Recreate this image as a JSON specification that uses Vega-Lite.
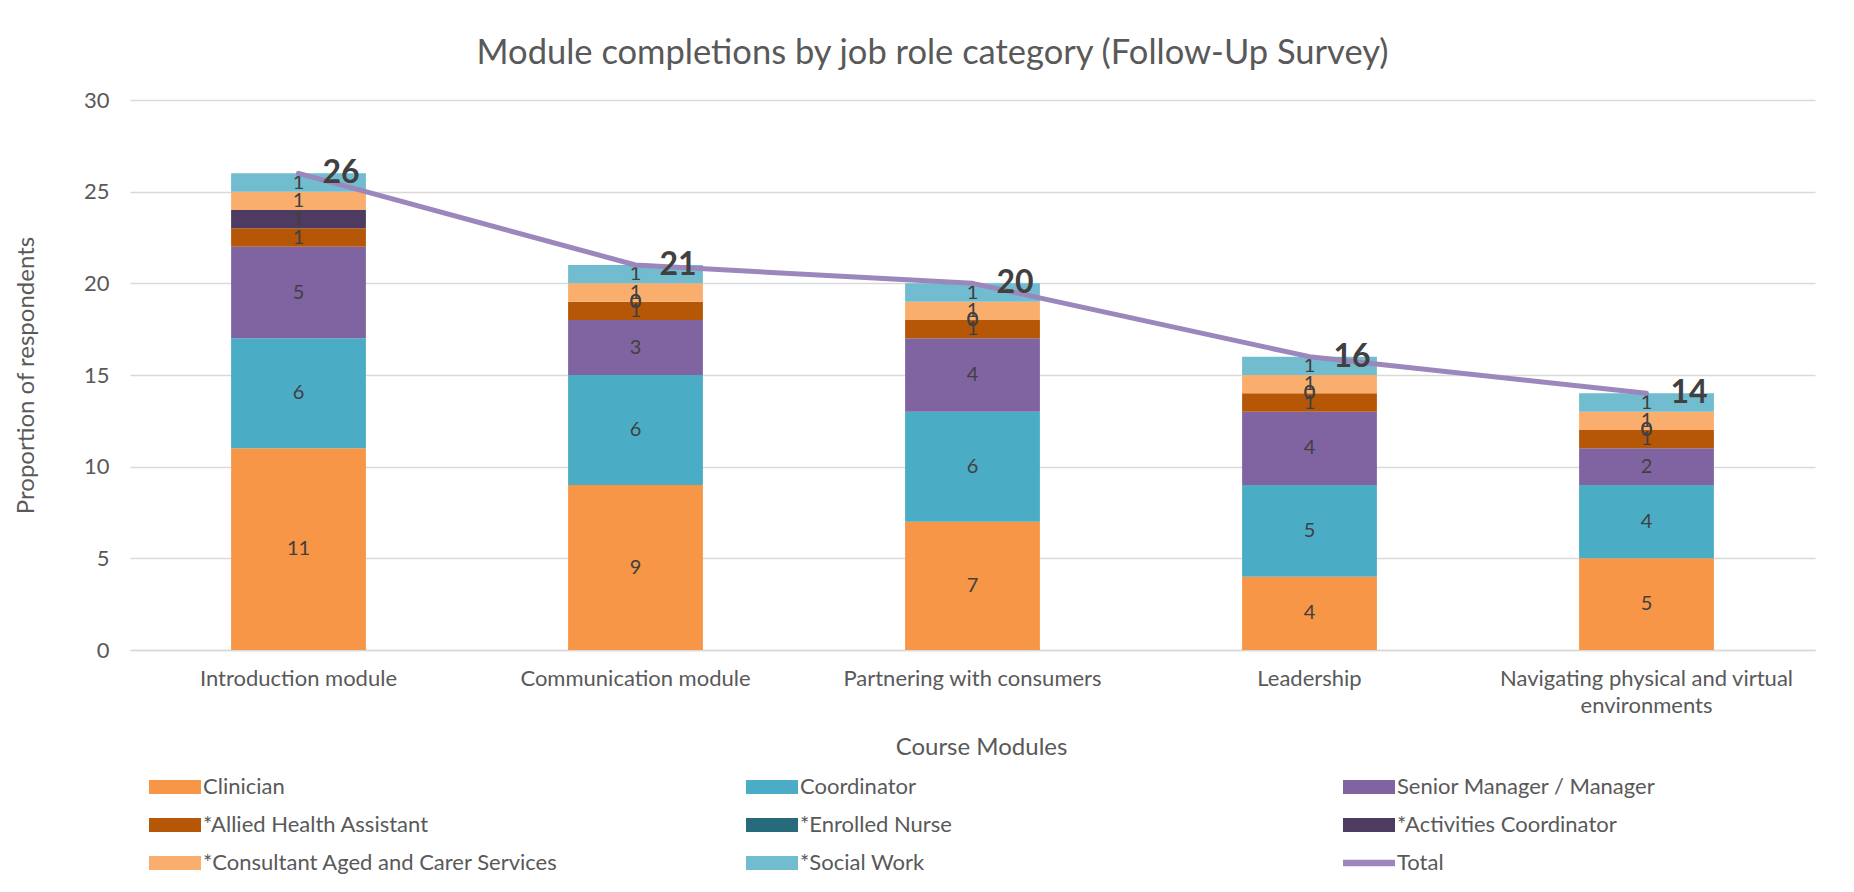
{
  "$schema": "https://vega.github.io/schema/vega-lite/v6.json",
  "width": 1685,
  "height": 550,
  "autosize": {"type": "none"},
  "padding": {"left": 130, "top": 100, "right": 39, "bottom": 242},
  "background": "white",
  "config": {"view": {"stroke": null}, "font": "Lato"},
  "title": {
    "text": "Module completions by job role category (Follow-Up Survey)",
    "fontSize": 34.5, "font": "Lato", "fontWeight": "normal", "color": "#595959",
    "anchor": "middle", "frame": "group", "dx": -40, "offset": -9, "baseline": "alphabetic"
  },
  "datasets": {
    "roles": [
      {"module": "Introduction module", "role": "Clinician", "ord": 1, "count": 11},
      {"module": "Introduction module", "role": "Coordinator", "ord": 2, "count": 6},
      {"module": "Introduction module", "role": "Senior Manager / Manager", "ord": 3, "count": 5},
      {"module": "Introduction module", "role": "*Allied Health Assistant", "ord": 4, "count": 1},
      {"module": "Introduction module", "role": "*Activities Coordinator", "ord": 6, "count": 1},
      {"module": "Introduction module", "role": "*Consultant Aged and Carer Services", "ord": 7, "count": 1},
      {"module": "Introduction module", "role": "*Social Work", "ord": 8, "count": 1},
      {"module": "Communication module", "role": "Clinician", "ord": 1, "count": 9},
      {"module": "Communication module", "role": "Coordinator", "ord": 2, "count": 6},
      {"module": "Communication module", "role": "Senior Manager / Manager", "ord": 3, "count": 3},
      {"module": "Communication module", "role": "*Allied Health Assistant", "ord": 4, "count": 1},
      {"module": "Communication module", "role": "*Enrolled Nurse", "ord": 5, "count": 0},
      {"module": "Communication module", "role": "*Activities Coordinator", "ord": 6, "count": 0},
      {"module": "Communication module", "role": "*Consultant Aged and Carer Services", "ord": 7, "count": 1},
      {"module": "Communication module", "role": "*Social Work", "ord": 8, "count": 1},
      {"module": "Partnering with consumers", "role": "Clinician", "ord": 1, "count": 7},
      {"module": "Partnering with consumers", "role": "Coordinator", "ord": 2, "count": 6},
      {"module": "Partnering with consumers", "role": "Senior Manager / Manager", "ord": 3, "count": 4},
      {"module": "Partnering with consumers", "role": "*Allied Health Assistant", "ord": 4, "count": 1},
      {"module": "Partnering with consumers", "role": "*Enrolled Nurse", "ord": 5, "count": 0},
      {"module": "Partnering with consumers", "role": "*Activities Coordinator", "ord": 6, "count": 0},
      {"module": "Partnering with consumers", "role": "*Consultant Aged and Carer Services", "ord": 7, "count": 1},
      {"module": "Partnering with consumers", "role": "*Social Work", "ord": 8, "count": 1},
      {"module": "Leadership", "role": "Clinician", "ord": 1, "count": 4},
      {"module": "Leadership", "role": "Coordinator", "ord": 2, "count": 5},
      {"module": "Leadership", "role": "Senior Manager / Manager", "ord": 3, "count": 4},
      {"module": "Leadership", "role": "*Allied Health Assistant", "ord": 4, "count": 1},
      {"module": "Leadership", "role": "*Enrolled Nurse", "ord": 5, "count": 0},
      {"module": "Leadership", "role": "*Activities Coordinator", "ord": 6, "count": 0},
      {"module": "Leadership", "role": "*Consultant Aged and Carer Services", "ord": 7, "count": 1},
      {"module": "Leadership", "role": "*Social Work", "ord": 8, "count": 1},
      {"module": "Navigating physical and virtual environments", "role": "Clinician", "ord": 1, "count": 5},
      {"module": "Navigating physical and virtual environments", "role": "Coordinator", "ord": 2, "count": 4},
      {"module": "Navigating physical and virtual environments", "role": "Senior Manager / Manager", "ord": 3, "count": 2},
      {"module": "Navigating physical and virtual environments", "role": "*Allied Health Assistant", "ord": 4, "count": 1},
      {"module": "Navigating physical and virtual environments", "role": "*Enrolled Nurse", "ord": 5, "count": 0},
      {"module": "Navigating physical and virtual environments", "role": "*Activities Coordinator", "ord": 6, "count": 0},
      {"module": "Navigating physical and virtual environments", "role": "*Consultant Aged and Carer Services", "ord": 7, "count": 1},
      {"module": "Navigating physical and virtual environments", "role": "*Social Work", "ord": 8, "count": 1}
    ],
    "totals": [
      {"module": "Introduction module", "total": 26},
      {"module": "Communication module", "total": 21},
      {"module": "Partnering with consumers", "total": 20},
      {"module": "Leadership", "total": 16},
      {"module": "Navigating physical and virtual environments", "total": 14}
    ]
  },
  "encoding": {
    "x": {
      "field": "module", "type": "nominal",
      "sort": ["Introduction module", "Communication module", "Partnering with consumers", "Leadership", "Navigating physical and virtual environments"],
      "scale": {"paddingInner": 0.6, "paddingOuter": 0.3},
      "axis": {
        "title": "Course Modules", "titleFontSize": 24, "titleColor": "#595959", "titleFontWeight": "normal", "titleFont": "Lato",
        "titleY": 97, "titleX": 851, "titleBaseline": "middle",
        "labelAngle": 0, "labelFontSize": 22, "labelColor": "#595959", "labelFont": "Lato", "labelPadding": 18, "labelLimit": 0,
        "labelLineHeight": 27,
        "labelExpr": "datum.label == 'Navigating physical and virtual environments' ? ['Navigating physical and virtual', 'environments'] : datum.label",
        "ticks": false, "domain": true, "domainColor": "#d9d9d9", "domainWidth": 1.3
      }
    }
  },
  "layer": [
    {
      "data": {"name": "roles"},
      "mark": {"type": "bar"},
      "encoding": {
        "y": {
          "field": "count", "type": "quantitative", "stack": "zero",
          "scale": {"domain": [0, 30]},
          "axis": {
            "title": "Proportion of respondents", "titleFontSize": 24, "titleColor": "#595959", "titleFontWeight": "normal", "titleFont": "Lato",
            "titleX": -104, "titleY": 275, "titleBaseline": "middle", "titleAngle": -90, "titleAlign": "center",
            "values": [0, 5, 10, 15, 20, 25, 30],
            "grid": true, "gridColor": "#d9d9d9", "gridWidth": 1.3,
            "domain": false, "ticks": false,
            "labelFontSize": 22, "labelColor": "#595959", "labelFont": "Lato", "labelPadding": 21
          }
        },
        "color": {
          "field": "role", "type": "nominal",
          "scale": {
            "domain": ["Clinician", "Coordinator", "Senior Manager / Manager", "*Allied Health Assistant", "*Enrolled Nurse", "*Activities Coordinator", "*Consultant Aged and Carer Services", "*Social Work", "Total"],
            "range": ["#F79646", "#4BACC6", "#8064A2", "#B65708", "#276A7C", "#4D3B62", "#F9AE6E", "#72BCD0", "#9B87BC"]
          },
          "legend": {
            "title": null, "orient": "none", "legendX": 15, "legendY": 676, "padding": 0,
            "direction": "horizontal",
            "columns": 3, "gridAlign": "all", "columnPadding": 184, "rowPadding": 16,
            "symbolSize": 196, "symbolOffset": 19, "labelOffset": 17,
            "labelFontSize": 22, "labelColor": "#595959", "labelFont": "Lato", "labelLimit": 0,
            "encode": {
              "symbols": {
                "update": {
                  "shape": {"signal": "datum.value === 'Total' ? 'M-3.714,-0.45H3.714V0.45H-3.714Z' : 'M-3.714,-1H3.714V1H-3.714Z'"},
                  "fill": {"scale": "color", "field": "value"},
                  "stroke": {"value": "transparent"},
                  "strokeWidth": {"value": 0},
                  "opacity": {"value": 1}
                }
              }
            }
          }
        },
        "order": {"field": "ord", "type": "quantitative"}
      }
    },
    {
      "data": {"name": "roles"},
      "mark": {"type": "text", "fontSize": 20, "color": "#404040", "baseline": "middle", "font": "Lato"},
      "encoding": {
        "y": {"field": "count", "type": "quantitative", "stack": "zero", "bandPosition": 0.5},
        "detail": {"field": "role", "type": "nominal"},
        "order": {"field": "ord", "type": "quantitative"},
        "text": {"field": "count", "type": "quantitative"}
      }
    },
    {
      "data": {"name": "totals"},
      "mark": {"type": "line", "strokeWidth": 5, "strokeCap": "round", "strokeJoin": "round"},
      "encoding": {
        "y": {"field": "total", "type": "quantitative"},
        "color": {"datum": "Total", "type": "nominal"}
      }
    },
    {
      "data": {"name": "totals"},
      "mark": {"type": "text", "fontSize": 32, "fontWeight": "bold", "color": "#404040", "align": "left", "baseline": "middle", "dx": 24, "font": "Lato"},
      "encoding": {
        "y": {"field": "total", "type": "quantitative"},
        "text": {"field": "total", "type": "quantitative"}
      }
    }
  ]
}
